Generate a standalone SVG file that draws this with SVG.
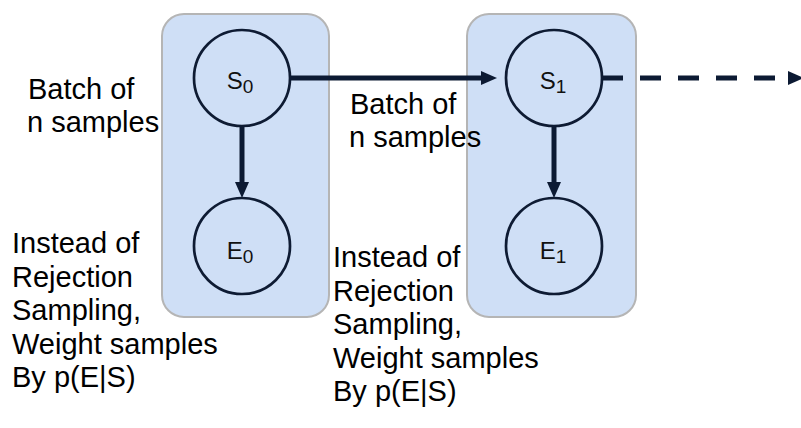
<svg xmlns="http://www.w3.org/2000/svg" width="801" height="428" viewBox="0 0 801 428">
<style>
.box{fill:#cfdff6;stroke:#b5b5b5;stroke-width:2}
.node{fill:none;stroke:#0e1b33;stroke-width:2.7}
.lbl{font-family:"Liberation Sans",Arial,sans-serif;fill:#111;text-anchor:middle}
.txt{font-family:"Liberation Sans",Arial,sans-serif;font-size:29px;fill:#000}
.edge{stroke:#0c1a33;stroke-width:5;fill:none}
.dash{stroke-dasharray:21 17}
</style>
<defs>
<marker id="ah" markerUnits="userSpaceOnUse" markerWidth="18" markerHeight="16" refX="7" refY="7" orient="auto">
<path d="M0,0 L16,7 L0,14 z" fill="#0c1a33"/>
</marker>
</defs>
<g id="slice0">
<rect class="box" x="162" y="14" width="167" height="303" rx="22"/>
</g>
<g id="slice1">
<rect class="box" x="467" y="14" width="169" height="303" rx="22"/>
</g>
<g id="S0">
<circle class="node" cx="242" cy="78" r="48"/>
<text class="lbl" x="240" y="89" style="font-size:24px">S<tspan dy="4" style="font-size:19px">0</tspan></text>
</g>
<g id="E0">
<circle class="node" cx="242" cy="246" r="48"/>
<text class="lbl" x="240" y="259" style="font-size:24px">E<tspan dy="4" style="font-size:19px">0</tspan></text>
</g>
<g id="S1">
<circle class="node" cx="554" cy="78" r="48"/>
<text class="lbl" x="553" y="89" style="font-size:24px">S<tspan dy="4" style="font-size:19px">1</tspan></text>
</g>
<g id="E1">
<circle class="node" cx="554" cy="246" r="48"/>
<text class="lbl" x="553" y="259" style="font-size:24px">E<tspan dy="4" style="font-size:19px">1</tspan></text>
</g>
<g id="connectors">
<line class="edge" x1="242" y1="126" x2="242" y2="189" marker-end="url(#ah)"/>
<line class="edge" x1="554" y1="126" x2="554" y2="189" marker-end="url(#ah)"/>
<line class="edge" x1="290" y1="78" x2="488" y2="78" marker-end="url(#ah)"/>
<line class="edge dash" x1="602" y1="78" x2="795" y2="78" marker-end="url(#ah)"/>
</g>
<g id="labels">
<text class="txt" x="28" y="99">Batch of</text>
<text class="txt" x="27" y="132">n samples</text>
<text class="txt" x="350" y="114">Batch of</text>
<text class="txt" x="349" y="147">n samples</text>
<text class="txt" x="12" y="253">Instead of</text>
<text class="txt" x="12" y="286.5">Rejection</text>
<text class="txt" x="12" y="320">Sampling,</text>
<text class="txt" x="12" y="353.5">Weight samples</text>
<text class="txt" x="12" y="387">By p(E|S)</text>
<text class="txt" x="333" y="267">Instead of</text>
<text class="txt" x="333" y="300.5">Rejection</text>
<text class="txt" x="333" y="334">Sampling,</text>
<text class="txt" x="333" y="367.5">Weight samples</text>
<text class="txt" x="333" y="401">By p(E|S)</text>
</g>
</svg>
